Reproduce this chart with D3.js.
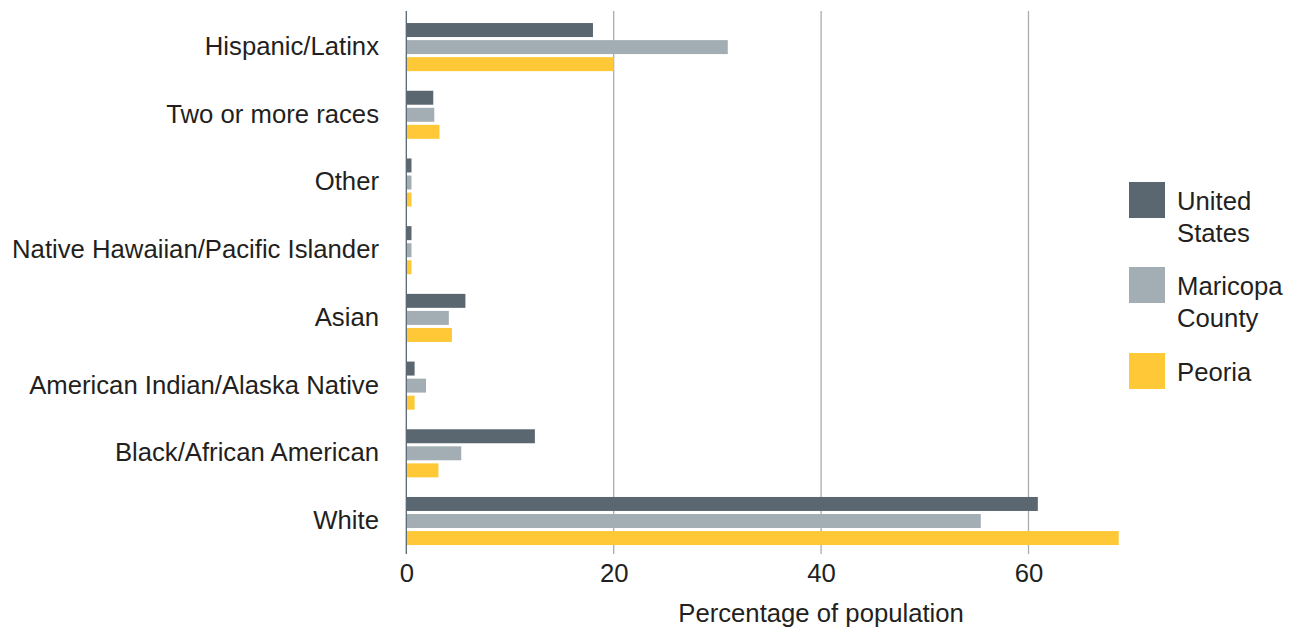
<!DOCTYPE html>
<html lang="en">
<head>
    <meta charset="UTF-8">
    <title>Population by race and ethnicity</title>
    <script src="https://cdn.jsdelivr.net/npm/d3@7"></script>
    <style>
        body { margin: 0; background: #fff; }
        svg { display: block; }
        text { font-family: "Liberation Sans", Arial, sans-serif; fill: #231f20; }
    </style>
</head>
<body>
    <div id="chart-space"></div>

    <script>
        var categories = ["Hispanic/Latinx", "Two or more races", "Other",
            "Native Hawaiian/Pacific Islander", "Asian", "American Indian/Alaska Native",
            "Black/African American", "White"];
        var seriesNames = ["United States", "Maricopa County", "Peoria"];
        var unitedStates = [18.0, 2.6, 0.5, 0.5, 5.7, 0.8, 12.4, 60.9];
        var maricopa = [31.0, 2.7, 0.5, 0.5, 4.1, 1.9, 5.3, 55.4];
        var peoria = [20.0, 3.2, 0.5, 0.5, 4.4, 0.8, 3.1, 68.7];
        var xTicks = [0, 20, 40, 60];
        var legendLines = [["United", "States"], ["Maricopa", "County"], ["Peoria"]];

        var colors = ["#5a6770", "#a3aeb4", "#ffc836"];
        var width = 1297;
        var height = 632;
        var fontSize = "25.7px";

        var values = [unitedStates, maricopa, peoria];
        var data = categories.map(function(c, i) {
            return {
                category: c,
                values: seriesNames.map(function(s, j) { return {series: s, value: values[j][i]}; })
            };
        });

        var svg = d3.select("#chart-space")
            .append("svg")
            .attr("width", width)
            .attr("height", height);

        var xScale = d3.scaleLinear()
            .domain([0, 20])
            .range([406.3, 613.7]);

        var yScale = d3.scaleBand()
            .domain(categories)
            .range([12.9, 555.2])
            .paddingInner(0.29)
            .paddingOuter(0.15);

        var yInner = d3.scaleBand()
            .domain(seriesNames)
            .range([0, yScale.bandwidth()])
            .paddingInner(0.18);

        var plotTop = 11;
        var plotBottom = 554;

        // gridlines
        svg.append("g")
            .selectAll("line")
            .data(xTicks.filter(function(d) { return d > 0; }))
            .join("line")
            .attr("x1", function(d) { return xScale(d); })
            .attr("x2", function(d) { return xScale(d); })
            .attr("y1", plotTop)
            .attr("y2", plotBottom)
            .attr("stroke", "#a7adb1")
            .attr("stroke-width", 1.3);

        // bars
        var groups = svg.append("g")
            .selectAll("g")
            .data(data)
            .join("g")
            .attr("transform", function(d) { return "translate(0," + yScale(d.category) + ")"; });

        groups.selectAll("rect")
            .data(function(d) { return d.values; })
            .join("rect")
            .attr("x", xScale(0))
            .attr("y", function(d) { return yInner(d.series); })
            .attr("width", function(d) { return xScale(d.value) - xScale(0); })
            .attr("height", yInner.bandwidth())
            .attr("fill", function(d, i) { return colors[i]; });

        // baseline axis
        svg.append("line")
            .attr("x1", xScale(0))
            .attr("x2", xScale(0))
            .attr("y1", plotTop)
            .attr("y2", plotBottom)
            .attr("stroke", "#5a6770")
            .attr("stroke-width", 1.3);

        // category labels
        svg.append("g")
            .selectAll("text")
            .data(categories)
            .join("text")
            .attr("x", 379)
            .attr("y", function(d) { return yScale(d) + yScale.bandwidth() / 2 + 8; })
            .attr("text-anchor", "end")
            .style("font-size", fontSize)
            .text(function(d) { return d; });

        // x tick labels
        var xAxis = svg.append("g")
            .attr("transform", "translate(0," + plotBottom + ")")
            .call(d3.axisBottom(xScale).tickValues(xTicks).tickSize(0).tickPadding(28));
        xAxis.select(".domain").remove();
        xAxis.selectAll("text")
            .attr("dy", 0)
            .style("font-size", fontSize)
            .style("font-family", "\"Liberation Sans\", Arial, sans-serif")
            .attr("fill", "#231f20");

        svg.append("text")
            .attr("x", xScale(40))
            .attr("y", 622)
            .attr("text-anchor", "middle")
            .style("font-size", fontSize)
            .text("Percentage of population");

        // legend
        var legendTops = [182, 267, 353];
        var legend = svg.append("g")
            .selectAll("g")
            .data(seriesNames)
            .join("g")
            .attr("transform", function(d, i) { return "translate(1129," + legendTops[i] + ")"; });

        legend.append("rect")
            .attr("width", 36)
            .attr("height", 36)
            .attr("fill", function(d, i) { return colors[i]; });

        legend.append("text")
            .attr("x", 48)
            .attr("y", 28)
            .style("font-size", fontSize)
            .selectAll("tspan")
            .data(function(d, i) { return legendLines[i]; })
            .join("tspan")
            .attr("x", 48)
            .attr("dy", function(d, i) { return i === 0 ? 0 : 32; })
            .text(function(d) { return d; });
    </script>
</body>
</html>
